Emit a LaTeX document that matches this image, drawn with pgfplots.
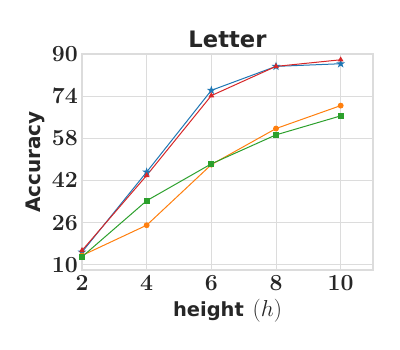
\documentclass[border=0pt]{standalone}
\usepackage{fontspec}
\setsansfont{DejaVu Sans}
\usepackage{pgfplots}
\pgfplotsset{compat=1.18}
\definecolor{tblue}{HTML}{1F77B4}
\definecolor{torange}{HTML}{FF7F0E}
\definecolor{tgreen}{HTML}{2CA02C}
\definecolor{tred}{HTML}{D62728}
\definecolor{gridc}{HTML}{DCDCDC}
\definecolor{txt}{HTML}{262626}
\pgfdeclareplotmark{fstar}{%
  \pgfpathmoveto{\pgfpointpolar{90}{1.3\pgfplotmarksize}}%
  \pgfpathlineto{\pgfpointpolar{126}{0.5\pgfplotmarksize}}%
  \pgfpathlineto{\pgfpointpolar{162}{1.3\pgfplotmarksize}}%
  \pgfpathlineto{\pgfpointpolar{198}{0.5\pgfplotmarksize}}%
  \pgfpathlineto{\pgfpointpolar{234}{1.3\pgfplotmarksize}}%
  \pgfpathlineto{\pgfpointpolar{270}{0.5\pgfplotmarksize}}%
  \pgfpathlineto{\pgfpointpolar{306}{1.3\pgfplotmarksize}}%
  \pgfpathlineto{\pgfpointpolar{342}{0.5\pgfplotmarksize}}%
  \pgfpathlineto{\pgfpointpolar{18}{1.3\pgfplotmarksize}}%
  \pgfpathlineto{\pgfpointpolar{54}{0.5\pgfplotmarksize}}%
  \pgfpathclose
  \pgfusepathqfillstroke}
\begin{document}
\begin{tikzpicture}
\begin{axis}[
  scale only axis,
  width=218.25pt, height=162pt,
  xmin=2, xmax=11, ymin=8, ymax=90,
  xtick={2,4,6,8,10},
  ytick={10,26,42,58,74,90},
  major tick length=0pt,
  grid=major,
  major grid style={gridc, line width=0.6pt},
  axis line style={gridc, line width=0.8pt},
  tick label style={font=\fontsize{16}{18}\selectfont\boldmath, text=txt},
  yticklabel style={inner sep=0pt, xshift=-3pt},
  xticklabel style={inner sep=0pt, yshift=-3.75pt},
  every axis title shift=0pt,
  title={Letter},
  title style={font=\sffamily\bfseries\fontsize{17}{20}\selectfont, text=txt,
    at={(axis description cs:0.5,1.0278)}, anchor=base, inner sep=0pt},
  xlabel={height\hspace{0.45em}{\fontsize{19}{22}\selectfont$(h)$}},
  xlabel style={font=\sffamily\bfseries\fontsize{14.6}{17}\selectfont, text=txt,
    at={(axis description cs:0.5,-0.2176)}, anchor=base, inner sep=0pt},
  ylabel={Accuracy},
  ylabel style={font=\sffamily\bfseries\fontsize{15}{18}\selectfont, text=txt,
    at={(axis description cs:-0.1409,0.5)}, anchor=base, inner sep=0pt},
  every axis plot/.append style={line width=0.75pt},
  mark size=1.8pt,
  clip=false,
]
\addplot[tblue, mark=fstar, mark options={solid, fill=tblue}] coordinates {
  (2,14.8) (4,45.2) (6,76.2) (8,85.3) (10,86.3)};
\addplot[torange, mark=*, mark options={solid, fill=torange}] coordinates {
  (2,13.5) (4,25.0) (6,48.0) (8,61.7) (10,70.4)};
\addplot[tgreen, mark=square*, mark options={solid, fill=tgreen}] coordinates {
  (2,13.0) (4,34.3) (6,48.3) (8,59.3) (10,66.5)};
\addplot[tred, mark=triangle*, mark options={solid, fill=tred}] coordinates {
  (2,15.4) (4,43.9) (6,74.2) (8,85.3) (10,87.8)};
\coordinate (sw) at (rel axis cs:0,0);
\coordinate (ne) at (rel axis cs:1,1);
\end{axis}
\pgfresetboundingbox
\path ([xshift=-61.5pt,yshift=-60pt]sw) rectangle ([xshift=20.25pt,yshift=40.5pt]ne);
\end{tikzpicture}
\end{document}
